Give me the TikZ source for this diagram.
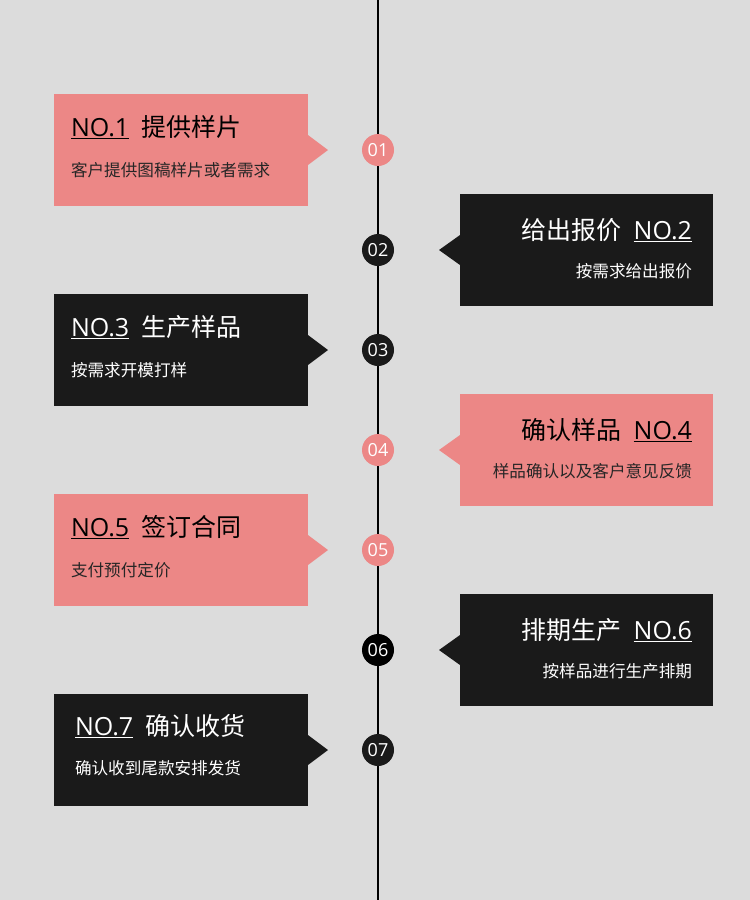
\documentclass[tikz,border=0pt]{standalone}
\usepackage{fontspec}
\setmainfont{Noto Sans CJK SC}
\newfontfamily\latinf{Open Sans}
\definecolor{bg}{HTML}{DCDCDC}
\definecolor{pinkc}{HTML}{EC8786}
\definecolor{darkc}{HTML}{1A1A1A}
\newcommand\ulno[1]{\setbox0\hbox{\latinf #1}\rlap{\rule[-3.2pt]{\wd0}{1.6pt}}\box0}
\tikzset{
  every node/.style={inner sep=0pt, outer sep=0pt},
  ttl/.style={font=\fontsize{25}{28}\selectfont},
  sub/.style={font=\fontsize{16.6}{20}\selectfont},
  num/.style={circle, minimum size=32pt, font=\latinf\fontsize{18}{20}\selectfont, text=white},
  spine/.style={line width=2pt, black},
}
\begin{document}
\begin{tikzpicture}[x=1pt,y=-1pt]
\fill[bg] (0,0) rectangle (750,900);
\useasboundingbox (0,0) rectangle (750,900);
\coordinate (top) at (378,0);
\coordinate (bot) at (378,900);
\draw[spine] (top) -- (bot);

% Box 1
\fill[pinkc] (54,94) rectangle (308,206);
\fill[pinkc] (308,135) -- (328,150) -- (308,165) -- cycle;
\node[num, fill=pinkc] (c1) at (378,150) {01};
\node[ttl, anchor=base west, text=black] (t1) at (71,136) {\ulno{NO.1}\hspace{0.48em}提供样片};
\node[sub, anchor=base west, text=black!85] (s1) at (71,176) {客户提供图稿样片或者需求};

% Box 2
\fill[darkc] (460,194) rectangle (713,306);
\fill[darkc] (460,235) -- (439,250) -- (460,265) -- cycle;
\node[num, fill=darkc] (c2) at (378,250) {02};
\node[ttl, anchor=base east, text=white] (t2) at (692,239) {给出报价\hspace{0.48em}\ulno{NO.2}};
\node[sub, anchor=base east, text=white] (s2) at (692,277) {按需求给出报价};

% Box 3
\fill[darkc] (54,294) rectangle (308,406);
\fill[darkc] (308,335) -- (328,350) -- (308,365) -- cycle;
\node[num, fill=darkc] (c3) at (378,350) {03};
\node[ttl, anchor=base west, text=white] (t3) at (71,336) {\ulno{NO.3}\hspace{0.48em}生产样品};
\node[sub, anchor=base west, text=white] (s3) at (71,376) {按需求开模打样};

% Box 4
\fill[pinkc] (460,394) rectangle (713,506);
\fill[pinkc] (460,435) -- (439,450) -- (460,465) -- cycle;
\node[num, fill=pinkc] (c4) at (378,450) {04};
\node[ttl, anchor=base east, text=black] (t4) at (692,439) {确认样品\hspace{0.48em}\ulno{NO.4}};
\node[sub, anchor=base east, text=black!85] (s4) at (692,477) {样品确认以及客户意见反馈};

% Box 5
\fill[pinkc] (54,494) rectangle (308,606);
\fill[pinkc] (308,535) -- (328,550) -- (308,565) -- cycle;
\node[num, fill=pinkc] (c5) at (378,550) {05};
\node[ttl, anchor=base west, text=black] (t5) at (71,536) {\ulno{NO.5}\hspace{0.48em}签订合同};
\node[sub, anchor=base west, text=black!85] (s5) at (71,576) {支付预付定价};

% Box 6
\fill[darkc] (460,594) rectangle (713,706);
\fill[darkc] (460,635) -- (439,650) -- (460,665) -- cycle;
\node[num, fill=black] (c6) at (378,650) {06};
\node[ttl, anchor=base east, text=white] (t6) at (692,639) {排期生产\hspace{0.48em}\ulno{NO.6}};
\node[sub, anchor=base east, text=white] (s6) at (692,677) {按样品进行生产排期};

% Box 7
\fill[darkc] (54,694) rectangle (308,806);
\fill[darkc] (308,735) -- (328,750) -- (308,765) -- cycle;
\node[num, fill=darkc] (c7) at (378,750) {07};
\node[ttl, anchor=base west, text=white] (t7) at (75,735) {\ulno{NO.7}\hspace{0.48em}确认收货};
\node[sub, anchor=base west, text=white] (s7) at (75,774) {确认收到尾款安排发货};
\end{tikzpicture}
\end{document}
